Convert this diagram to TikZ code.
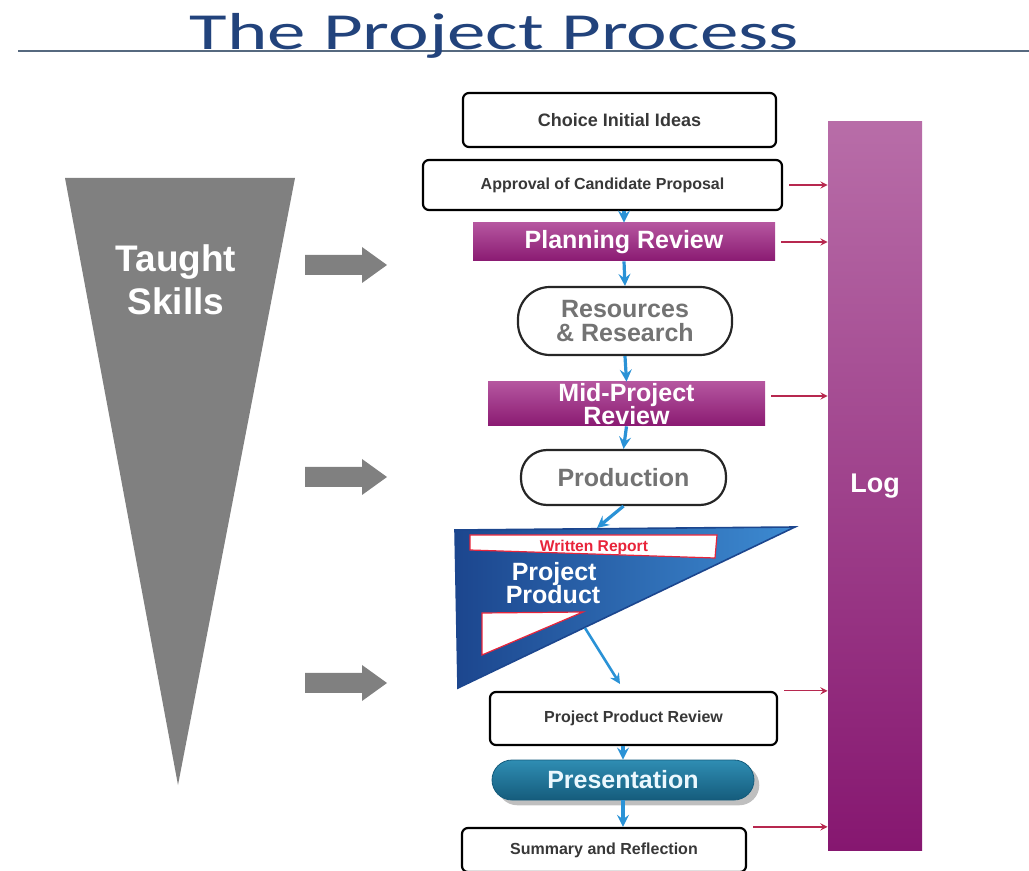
\documentclass[tikz,border=0pt]{standalone}
\usepackage{fontspec}
\setmainfont{Liberation Sans}
\newfontfamily\titlefont{Carlito}
\usetikzlibrary{calc,positioning,shadows}
\definecolor{titleblue}{HTML}{22437C}
\definecolor{rulegray}{HTML}{56697F}
\definecolor{skillgray}{HTML}{808080}
\definecolor{logtop}{HTML}{B86DA8}
\definecolor{logbot}{HTML}{861770}
\definecolor{revtop}{HTML}{B5569F}
\definecolor{revbot}{HTML}{8A1A72}
\definecolor{flowblue}{HTML}{2A92D6}
\definecolor{logred}{HTML}{B7284F}
\definecolor{prodleft}{HTML}{1C468E}
\definecolor{prodright}{HTML}{3D8BD2}
\definecolor{prestop}{HTML}{2F8DB3}
\definecolor{presbot}{HTML}{155C7C}
\definecolor{reportred}{HTML}{E8243A}
\tikzset{
		>=stealth
	}
\newcommand{\fsz}[1]{\bfseries\fontsize{#1}{1.15\dimexpr#1pt\relax}\selectfont}

\begin{document}
\begin{tikzpicture}[x=0.5pt,y=-0.5pt,
    stagebox/.style={draw=black,line width=1.1pt,rounded corners=3pt,fill=white,text=black!78,inner sep=0pt},
    reviewbox/.style={top color=revtop,bottom color=revbot,text=white,align=center,inner sep=0pt},
    pillbox/.style={draw=black!85,line width=1.1pt,fill=white,text=black!55,align=center,inner sep=0pt},
    flow/.style={->,flowblue,line width=1.6pt},
    logarrow/.style={->,logred,line width=0.6pt,shorten <=3pt}]
          \useasboundingbox (0,0) rectangle (1029,871);

          % title and rule
          \draw[rulegray,line width=1pt] (18,51) -- (1029,51);
          \node[text=titleblue,anchor=base] (title) at (494,50)
               {\scalebox{1.48}[1]{\titlefont\fontsize{26}{29}\selectfont The Project Process}};

          % taught skills
          \fill[skillgray] (65,178) -- (295,178) -- (178,785) -- cycle;
          \node[text=white,align=center,font=\fsz{18.5}] (skills) at (176,280) {Taught\\Skills};
          \foreach \y in {265,477,683}
            \fill[skillgray] (305,\y-10) -- (362,\y-10) -- (362,\y-18) -- (387,\y)
                             -- (362,\y+18) -- (362,\y+10) -- (305,\y+10) -- cycle;

          % log bar
          \node[top color=logtop,bottom color=logbot,minimum width=47pt,minimum height=364pt,
                text=white,font=\fsz{13.5}] (log) at (875,486) {Log};

          % stages
          \node[stagebox,minimum width=156.5pt,minimum height=27pt,font=\fsz{9}] (choice) at (619.5,120) {Choice Initial Ideas};
          \node[stagebox,minimum width=179.5pt,minimum height=25pt,font=\fsz{8}] (approval) at (602.5,185) {Approval of Candidate Proposal};
          \node[reviewbox,minimum width=151pt,minimum height=19pt,font=\fsz{12.5}] (planning) at (624,242) {Planning Review};
          \node[pillbox,minimum width=107pt,minimum height=34pt,rounded corners=16pt,font=\fsz{12.5}] (resources) at (625,321) {Resources\\[-2pt]\& Research};
          \node[reviewbox,minimum width=138.5pt,minimum height=22pt,font=\fsz{12.5}] (midrev) at (626.5,404) {Mid-Project\\[-3pt]Review};
          \node[pillbox,minimum width=102.5pt,minimum height=27.5pt,rounded corners=13pt,font=\fsz{12.5}] (production) at (623.5,477.5) {Production};

          % project product triangle
          \shade[left color=prodleft,right color=prodright,draw=prodleft,line width=0.8pt]
                (455,530) -- (795,527) -- (458,688) -- cycle;
          \filldraw[fill=white,draw=reportred,line width=0.6pt] (470,535) -- (717,535) -- (715,558) -- (470,550) -- cycle;
          \filldraw[fill=white,draw=reportred,line width=0.6pt] (482,613) -- (583,612) -- (482,655) -- cycle;
          \node[text=reportred,font=\fsz{7.8}] (report) at (594,547) {Written Report};
          \node[text=white,align=left,font=\fsz{12.5}] (product) at (553,583) {\hspace*{3pt}Project\\[-3pt]Product};
          \coordinate (prodin) at (597,528);
          \coordinate (prodout) at (585,628);
          \coordinate (ppin) at (620,684);

          \node[stagebox,minimum width=143.5pt,minimum height=26.5pt,font=\fsz{8}] (ppreview) at (633.5,718.5) {Project Product Review};
          \node[draw=presbot,top color=prestop,bottom color=presbot,rounded corners=10pt,drop shadow,
                minimum width=131pt,minimum height=20pt,inner sep=0pt,text=white!92!cyan,font=\fsz{12.5}] (presentation) at (623,780) {Presentation};
          \node[stagebox,minimum width=142pt,minimum height=22pt,font=\fsz{8}] (summary) at (604,850) {Summary and Reflection};

          % flow arrows
          \draw[flow] (planning.north |- approval.south) -- (planning.north);
          \draw[flow] (planning.south) -- (resources.north);
          \draw[flow] (resources.south) -- (midrev.north);
          \draw[flow] (midrev.south) -- (production.north);
          \draw[flow] (production.south) -- (prodin);
          \draw[flow,line width=1.3pt] (prodout) -- (ppin);
          \draw[flow] (presentation.north |- ppreview.south) -- (presentation.north);
          \draw[flow] (presentation.south) -- (presentation.south |- summary.north);

          % arrows into log
          \coordinate (midlog) at ($(midrev.east)+(0,-8)$);
          \draw[logarrow] (approval.east) -- (approval.east -| log.west);
          \draw[logarrow] (planning.east) -- (planning.east -| log.west);
          \draw[logarrow] (midlog) -- (midlog -| log.west);
          \draw[logarrow] (ppreview.north east) -- (ppreview.north east -| log.west);
          \draw[logarrow] (summary.north east) -- (summary.north east -| log.west);

          \end{tikzpicture}
\end{document}
